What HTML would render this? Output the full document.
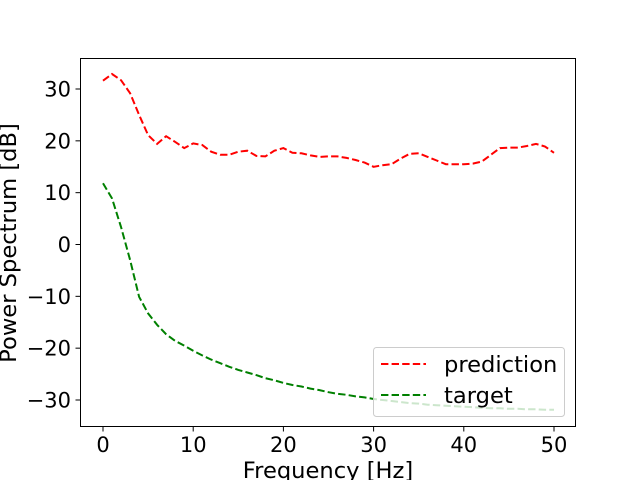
<!DOCTYPE html>
<html><head><meta charset="utf-8"><style>body{margin:0;background:#fff}svg{display:block;font-family:"DejaVu Sans","Liberation Sans",sans-serif}</style></head>
<body>
<svg id="c" width="640" height="480"></svg>
<script>
const freqs = Array.from({length:51},(_,i)=>i);
const prediction = [31.6,32.9,31.7,29.2,25,21.1,19.4,20.9,19.8,18.6,19.5,19.2,17.9,17.3,17.3,17.9,18.1,17.1,17.0,18.1,18.6,17.7,17.6,17.2,16.9,17.0,17.0,16.7,16.3,15.8,15.0,15.3,15.5,16.6,17.5,17.6,16.9,16.2,15.5,15.5,15.5,15.6,16.0,17.3,18.6,18.7,18.7,19.0,19.4,18.9,17.7];
const target = [11.8,8.9,3.4,-3.0,-10.1,-13.3,-15.5,-17.3,-18.6,-19.5,-20.5,-21.4,-22.2,-22.9,-23.6,-24.2,-24.7,-25.2,-25.8,-26.2,-26.7,-27.1,-27.4,-27.8,-28.1,-28.5,-28.8,-29.0,-29.3,-29.5,-29.8,-30.0,-30.2,-30.4,-30.6,-30.7,-30.9,-31.0,-31.1,-31.2,-31.3,-31.4,-31.5,-31.6,-31.6,-31.7,-31.7,-31.8,-31.8,-31.9,-31.9];
const xTicks = [0,10,20,30,40,50];
const yTicks = [30,20,10,0,-10,-20,-30];
const NS="http://www.w3.org/2000/svg", svg=document.getElementById('c');
const X=v=>103+v*9.02, Y=v=>244.5-v*5.183;
function el(t,a,txt){const e=document.createElementNS(NS,t);for(const k in a)e.setAttribute(k,a[k]);if(txt!=null)e.textContent=txt;svg.appendChild(e);return e;}
const frame=el('rect',{x:80.5,y:58.5,width:495,height:368,fill:'none',stroke:'#000','stroke-width':1});


xTicks.forEach(t=>{
  const l=el('line',{x1:X(t),x2:X(t),y1:427,y2:431.5,stroke:'#000'});
  
  
  const tx=el('text',{x:X(t),y:452,'font-size':21,'text-anchor':'middle'},t);
  
  
});
yTicks.forEach(t=>{
  const l=el('line',{x1:75.5,x2:80,y1:Y(t),y2:Y(t),stroke:'#000'});
  
  
  const tx=el('text',{x:71,y:Y(t)+7.5,'font-size':21,'text-anchor':'end'},t<0?'\u2212'+(-t):t);
  
  
});
const xl=el('text',{x:328,y:478,'font-size':22.6,'text-anchor':'middle'},'Frequency [Hz]');


const yl=el('text',{x:0,y:0,'font-size':22.6,'text-anchor':'middle',transform:'translate(16,243) rotate(-90)'},'Power Spectrum [dB]');


function series(vals,color,name){
  const d=vals.map((v,i)=>(i?'L':'M')+X(freqs[i]).toFixed(1)+','+Y(v).toFixed(1)).join('');
  const p=el('path',{d:d,fill:'none',stroke:color,'stroke-width':2,'stroke-dasharray':'7.4,3.2'});
  
  
}
series(prediction,'#ff0000','prediction-line');
series(target,'#008000','target-line');
const lg=el('rect',{x:373.5,y:347.5,width:191,height:69,rx:3,fill:'#fff','fill-opacity':0.8,stroke:'#ccc'});


[['prediction','#ff0000',364],['target','#008000',395]].forEach(([n,c,y])=>{
  const l=el('line',{x1:381,x2:426,y1:y,y2:y,stroke:c,'stroke-width':2,'stroke-dasharray':'7.4,3.2'});
  
  
  const t=el('text',{x:444,y:y+8,'font-size':22.6},n);
  
  
});
</script>
</body></html>
